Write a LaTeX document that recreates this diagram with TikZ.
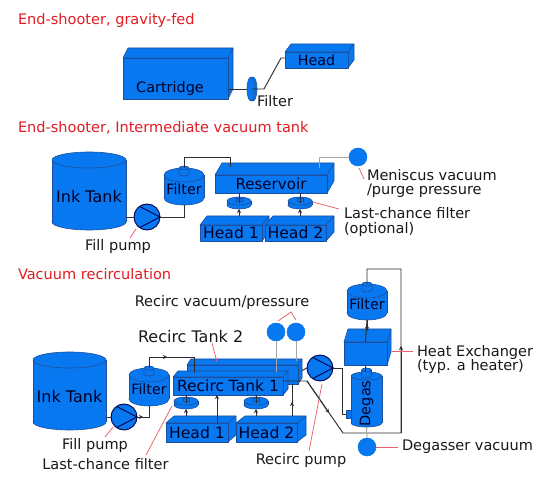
\documentclass[tikz,border=0pt]{standalone}
\usepackage{fontspec}
\setmainfont{DejaVu Sans}
\usepackage{tikz}
\usetikzlibrary{arrows.meta,shapes.geometric}

\definecolor{partblue}{RGB}{8,120,240}
\definecolor{partline}{RGB}{28,78,155}
\definecolor{pipeblack}{RGB}{45,45,50}
\definecolor{noteline}{RGB}{232,95,105}
\definecolor{titlered}{RGB}{226,28,36}

\tikzset{
  partfill/.style={draw=partline,fill=partblue,line width=0.45pt,line join=round},
  partface/.style={partfill,inner sep=0pt,outer sep=0pt,text=black!85!blue,font=\fontsize{11.7}{13}\selectfont},
  partname/.style={inner sep=0pt,outer sep=0pt,text=black!85!blue,font=\fontsize{11.4}{13}\selectfont},
  pumpnode/.style={circle,partfill,inner sep=0pt,outer sep=0pt,minimum size=19.5pt,line width=0.7pt,draw=black!70!blue},
  gaugenode/.style={circle,fill=partblue,draw=partblue,inner sep=0pt,outer sep=0pt,minimum size=13.5pt},
  pipe/.style={draw=pipeblack,line width=0.7pt,line join=miter},
  pipetip/.style={pipe,-{Stealth[length=3pt,width=3pt]}},
  gasline/.style={draw=black!35,line width=0.7pt},
  leader/.style={draw=noteline,line width=0.55pt},
  notetext/.style={inner sep=0pt,outer sep=0pt,text=black!90,align=left,font=\fontsize{10.9}{11.2}\selectfont},
  titletext/.style={inner sep=0pt,outer sep=0pt,text=titlered,font=\fontsize{10.9}{13}\selectfont},
}

% name, x1, y1, x2, y2, dx, dy, label
\newcommand{\cubepart}[8]{
  \draw[partfill] (#2,#3) -- ++(#6,-#7) -- ({#4+#6},{#3-#7}) -- ({#4+#6},{#5-#7}) -- (#4,#5) -- (#4,#3) -- cycle;
  \draw[partfill] (#4,#3) -- ++(#6,-#7);
  \node[partface,minimum width={(#4-#2)*0.75pt},minimum height={(#5-#3)*0.75pt}] (#1) at ({(#2+#4)/2},{(#3+#5)/2}) {#8};
}
% name, centre x, top y, bottom y, half width, ellipse height, label
\newcommand{\tankpart}[7]{
  \draw[partfill] (#2,{#4-#6}) ellipse [x radius=#5*0.75pt,y radius=#6*0.75pt];
  \fill[partblue] ({#2-#5},{#3+#6}) rectangle ({#2+#5},{#4-#6});
  \draw[partfill] ({#2-#5},{#3+#6}) -- ({#2-#5},{#4-#6}) ({#2+#5},{#3+#6}) -- ({#2+#5},{#4-#6});
  \draw[partfill] (#2,{#3+#6}) ellipse [x radius=#5*0.75pt,y radius=#6*0.75pt];
  \node[partname,minimum width={2*#5*0.75pt},minimum height={(#4-#3)*0.75pt}] (#1) at (#2,{(#3+#4)/2}) {};
  \node[partname] (#1text) at (#2,{(#3+#4)/2+(#4-#3)*0.07}) {#7};
}
% little neck on top of a filter or degasser
\newcommand{\neckpart}[2]{
  \draw[partfill] ({#1-5},#2) -- ({#1-5},{#2+6}) arc [start angle=180,end angle=360,x radius=5,y radius=-2] -- ({#1+5},#2);
  \draw[partfill] (#1,#2) ellipse [x radius=3.75pt,y radius=1.5pt];
}
% name, centre x, centre y
\newcommand{\discpart}[3]{
  \draw[partfill] (#2,{#3+2}) ellipse [x radius=9pt,y radius=3pt];
  \fill[partblue] ({#2-12},{#3-2}) rectangle ({#2+12},{#3+2});
  \draw[partfill] ({#2-12},{#3-2}) -- ({#2-12},{#3+2}) ({#2+12},{#3-2}) -- ({#2+12},{#3+2});
  \draw[partfill] (#2,{#3-2}) ellipse [x radius=9pt,y radius=3pt];
  \draw[partfill] ({#2-3},{#3-5}) rectangle ({#2+3},{#3-2});
  \node[partname,minimum width=18pt,minimum height=9pt] (#1) at (#2,#3) {};
}
% name, centre x, centre y
\newcommand{\pumppart}[3]{
  \node[pumpnode] (#1) at (#2,#3) {};
  \draw[line width=0.7pt,black!70!blue] (#1.125) -- (#1.east) -- (#1.235);
}

\begin{document}
\begin{tikzpicture}[x=0.75pt,y=-0.75pt]
\useasboundingbox (0,0) rectangle (554,491);
\fill[white] (0,0) rectangle (554,491);

% Gravity fed
\node[titletext,anchor=west] (titlea) at (18,20) {End-shooter, gravity-fed};
\cubepart{cartridge}{123}{58}{228}{99}{5}{10}{}
\node[partname] (cartridgetext) at (170,89) {\fontsize{10.8}{13}\selectfont Cartridge};
\cubepart{heada}{285}{52}{348}{68}{6}{8}{\fontsize{10.7}{13}\selectfont Head}
\coordinate (filtain) at (247,89);
\draw[pipe] (cartridge.east |- filtain) -- (filtain);
\draw[partfill] (253,89) ellipse [x radius=3pt,y radius=9pt];
\fill[partblue] (251,77) rectangle (253,101);
\draw[partfill] (251,89) ellipse [x radius=3pt,y radius=9pt];
\node[partname,minimum width=9pt,minimum height=18pt] (filta) at (252,89) {};
\coordinate (headain) at (285,58);
\draw[pipe] (filta.center) -- (264,89) -- (281,58) -- (headain);
\node[notetext,anchor=center] (filtatext) at (275,101) {Filter};

% Intermediate tank
\node[titletext,anchor=west] (titleb) at (18,128) {End-shooter, Intermediate vacuum tank};
\tankpart{tankb}{89}{152}{230}{37}{8}{\fontsize{12}{14}\selectfont Ink Tank}
\tankpart{filtb}{184}{168}{205}{20}{7}{\fontsize{10.7}{13}\selectfont Filter}
\neckpart{184}{168}
\cubepart{reservoir}{215}{175}{327}{193}{7}{12}{\fontsize{11.3}{13}\selectfont Reservoir}
\discpart{discba}{239}{203}
\discpart{discbb}{300}{203}
\cubepart{headba}{200}{225}{262}{241}{7}{9}{Head 1}
\cubepart{headbb}{265}{225}{326}{241}{8}{9}{Head 2}
\pumppart{pumpb}{147}{217}
\node[gaugenode] (gaugeb) at (358,157) {};

\coordinate (resin) at (230,167);
\coordinate (resgas) at (319,168);
\draw[pipe] (tankb.east |- pumpb) -- (pumpb.west);
\draw[pipe] (pumpb.east) -| (filtb.south);
\draw[pipe] (filtb.north) -- ++(0,-11) -| (resin);
\draw[gasline] (resgas) |- (gaugeb.west);
\foreach \d/\h/\r in {discba/headba/239,discbb/headbb/300}{
  \coordinate (\h top) at (\r,216);
  \draw[pipe] (\d.center) -- (\d.center |- reservoir.south);
  \draw[pipetip] (\h top) -- (\d.south);
}

\node[notetext,anchor=north] (fillb) at (118,239) {Fill pump};
\node[notetext,anchor=west] (meniscus) at (367,183.5) {Meniscus vacuum\\/purge pressure};
\node[notetext,anchor=west] (lastb) at (344,222) {Last-chance filter\\(optional)};
\coordinate (fillba) at (136,229);
\coordinate (fillbb) at (130,238);
\coordinate (menisa) at (359,168);
\coordinate (menisb) at (364,179);
\coordinate (lastba) at (313,202);
\coordinate (lastbb) at (339,209);
\draw[leader] (fillba) -- (fillbb);
\draw[leader] (menisa) -- (menisb);
\draw[leader] (lastba) -- (lastbb);

% Recirculation
\node[titletext,anchor=west] (titlec) at (18,274) {Vacuum recirculation};
\tankpart{tankc}{69.5}{352}{430}{36.5}{8}{\fontsize{12}{14}\selectfont Ink Tank}
\tankpart{filtc}{149}{368}{406}{20}{7}{\fontsize{10.7}{13}\selectfont Filter}
\neckpart{149}{368}
\cubepart{recircb}{187}{365}{298}{384}{4}{6}{}
\cubepart{recirca}{173}{377}{283}{395}{5}{6}{\fontsize{11.6}{13}\selectfont Recirc Tank 1}
\discpart{discca}{186}{403}
\discpart{disccb}{256}{403}
\cubepart{headca}{166}{423}{228}{442}{8}{7}{Head 1}
\cubepart{headcb}{236}{423}{297}{442}{9}{7}{Head 2}
\pumppart{pumpc}{124}{417}
\pumppart{pumpd}{320}{368}
\node[gaugenode] (gaugea) at (276,332) {};
\node[gaugenode] (gaugec) at (296,332) {};

\tankpart{filtd}{367}{284}{320}{20}{7}{\fontsize{10.7}{13}\selectfont Filter}
\neckpart{367}{284}
\cubepart{exchanger}{344}{342}{387}{365}{4}{13}{}
\tankpart{degas}{366.5}{372}{427}{15.5}{4}{\rotatebox{90}{\fontsize{10.9}{13}\selectfont Degas}}
\neckpart{366.5}{370}
\draw[partfill] (346,410) rectangle (351,418);
\node[partname,minimum width=3.75pt,minimum height=6pt] (degasin) at (348.5,414) {};
\node[gaugenode] (gauged) at (367,447) {};

\coordinate (recircin) at (194,373);
\coordinate (recircmid) at (167,357);
\coordinate (recircout) at (283,381);
\coordinate (recirctop) at (292,416);
\coordinate (recircjoin) at (217,423);
\coordinate (returnmid) at (329,413);
\coordinate (returncorner) at (343,433);
\coordinate (returnup) at (401,346);
\draw[pipe] (tankc.east |- pumpc) -- (pumpc.west);
\draw[pipe] (pumpc.east) -| (filtc.south);
\draw[pipetip] (pumpc.east) -- (143,417);
\draw[pipe] (filtc.north) -- ++(0,-11) -| (recircin);
\draw[pipetip] (filtc.north |- recircmid) -- (recircmid);
\foreach \d/\h/\r in {discca/headca/186,disccb/headcb/256}{
  \coordinate (\h top) at (\r,416);
  \draw[pipe] (\d.center) -- (\d.center |- recirca.south);
  \draw[pipetip] (\h top) -- (\d.south);
}
\draw[pipetip] (recircjoin) -- (recircjoin |- recirca.south);
\draw[pipe] (recirctop) -- (recirctop |- recircb.south);
\draw[pipetip] (recirctop) -- (292,402);
\draw[pipe] (recircb.east) ++(4,-4) -- (pumpd.west);
\draw[pipe] (pumpd.east) -- (342,368) |- (degasin.west);
\draw[pipe] (recircout) -- (307,381) -- (returncorner) -- (401,433) -- (401,269) -- (367,269) -- (filtd.north);
\draw[pipetip] (307,381) -- (returnmid);
\draw[pipetip] (401,433) -- (returnup);
\draw[pipetip] (filtd.south) -- (367,331);
\draw[pipe] (filtd.south) -- (exchanger.north);
\draw[pipe] (exchanger.south) -- (degas.north -| exchanger.south);
\draw[gasline] (gaugea.south) -- (276,372);
\draw[gasline] (gaugec.south) -- (296,361);
\draw[gasline] (degas.south) -- (gauged.north);

\node[notetext,anchor=center] (recircvac) at (222,302) {Recirc vacuum/pressure};
\node[partname,anchor=west,text=black!90] (recirctwo) at (138,337) {\fontsize{12}{13}\selectfont Recirc Tank 2};
\node[notetext,anchor=north] (fillc) at (95,438) {Fill pump};
\node[notetext,anchor=north] (lastc) at (105.5,458) {Last-chance filter};
\node[notetext,anchor=north] (recircp) at (301,453) {Recirc pump};
\node[notetext,anchor=west] (heatx) at (417,359.5) {Heat Exchanger\\(typ. a heater)};
\node[notetext,anchor=west] (degasv) at (402,447) {Degasser vacuum};

\coordinate (apex) at (291,312);
\coordinate (gaugela) at (278,321);
\coordinate (gauglc) at (296,320);
\coordinate (twola) at (212,343);
\coordinate (twolb) at (217,362);
\coordinate (fillca) at (113,427);
\coordinate (fillcb) at (105,437);
\coordinate (lastca) at (172,406);
\coordinate (lastcb) at (146,455);
\coordinate (recpa) at (322,384);
\coordinate (recpb) at (309,451);
\coordinate (heata) at (392,351);
\coordinate (heatb) at (413,351);
\coordinate (degla) at (398,447);
\draw[leader] (gaugela) -- (apex) -- (gauglc);
\draw[leader] (twola) -- (twolb);
\draw[leader] (fillca) -- (fillcb);
\draw[leader] (lastca) -- (lastcb);
\draw[leader] (recpa) -- (recpb);
\draw[leader] (heata) -- (heatb);
\draw[leader] (gauged.east) -- (degla);
\end{tikzpicture}
\end{document}
